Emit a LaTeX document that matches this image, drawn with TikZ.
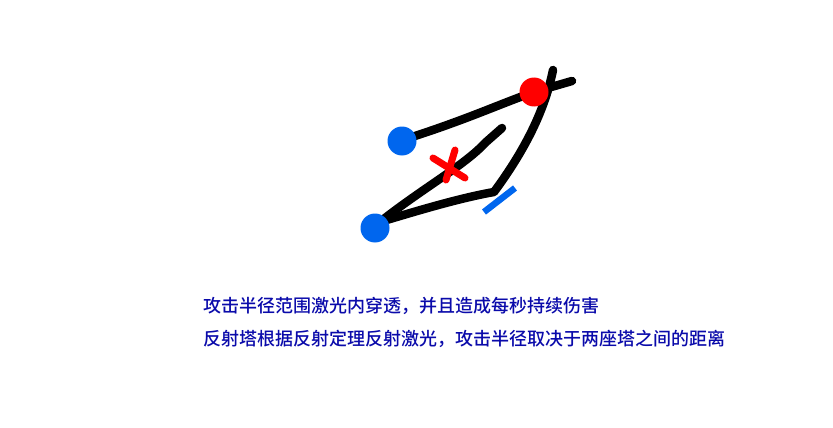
\documentclass[tikz,border=0pt]{standalone}
\usepackage{fontspec}
\newfontfamily\cjk{Noto Sans CJK SC Medium}
\definecolor{tblue}{RGB}{0,102,238}
\definecolor{txtblue}{RGB}{10,10,170}
\begin{document}
\begin{tikzpicture}[x=1pt,y=-1pt,
  stroke/.style={line width=8.5pt,line cap=round,line join=round,black},
  tower/.style={circle,fill=tblue,minimum size=29pt,inner sep=0pt},
  redtower/.style={circle,fill=red,minimum size=29pt,inner sep=0pt},
  txt/.style={anchor=west,inner sep=0pt,text=txtblue,font=\cjk\fontsize{18pt}{20pt}\selectfont}]
\useasboundingbox (0,0) rectangle (833,428);
% coordinates
\coordinate (r1) at (572,81);
\coordinate (r2) at (553,70);
\coordinate (k) at (494,192);
\coordinate (e) at (502,128);
% lines
\draw[stroke] (415,136) .. controls (470,118) and (500,104) .. (534,92) -- (r1);
\draw[stroke] (r2) .. controls (545,110) and (525,150) .. (k) .. controls (460,198) and (420,210) .. (380,222);
\draw[stroke] (380,222) .. controls (420,190) and (465,165) .. (485,143) -- (e);
% towers
\node[tower] (b1) at (402,141) {};
\node[tower] (b2) at (375,228) {};
\node[redtower] (rt) at (534,92) {};
% red X
\draw[line width=7pt,line cap=round,red] (433,158) -- (465,178);
\draw[line width=7pt,line cap=round,red] (455,150) -- (446,180);
% blue bar
\draw[line width=6.5pt,tblue] (484,212) -- (515,188);
% text
\node[txt] (t1) at (203,306) {攻击半径范围激光内穿透，并且造成每秒持续伤害};
\node[txt] (t2) at (203,339) {反射塔根据反射定理反射激光，攻击半径取决于两座塔之间的距离};
\end{tikzpicture}
\end{document}
